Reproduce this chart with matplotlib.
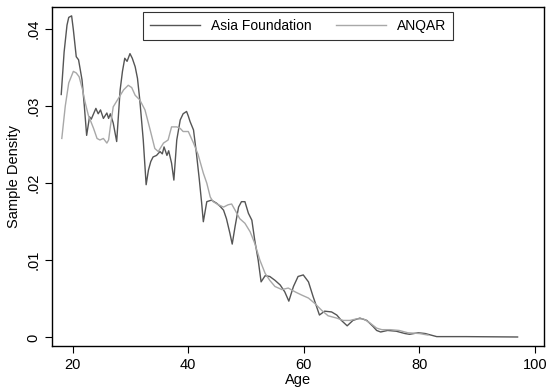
import matplotlib
matplotlib.use("Agg")
import matplotlib.pyplot as plt
from matplotlib.ticker import FixedLocator, FixedFormatter

plt.rcParams['font.family'] = ['Liberation Sans', 'DejaVu Sans']

# Sample density by age: Asia Foundation survey
asia_age = [18.0, 18.5, 19.0, 19.3, 19.8, 20.1, 20.6, 21.0, 21.6, 22.0, 22.4, 22.9,
            23.2, 23.6, 24.0, 24.4, 24.8, 25.3, 25.9, 26.2, 26.5, 27.0, 27.6, 28.2,
            28.6, 29.0, 29.4, 29.9, 30.3, 30.8, 31.2, 31.6, 32.2, 32.7, 33.1, 33.5,
            33.9, 34.5, 35.1, 35.5, 35.8, 36.3, 36.6, 37.1, 37.5, 38.0, 38.6, 39.1,
            39.7, 40.0, 40.3, 40.9, 41.4, 41.9, 42.3, 42.6, 43.2, 44.0, 44.9, 45.5,
            46.1, 46.6, 47.2, 47.6, 48.1, 48.7, 49.2, 49.8, 50.4, 51.0, 51.5, 52.1,
            52.6, 53.3, 54.1, 55.0, 55.9, 56.7, 57.4, 58.2, 59.0, 59.9, 60.8, 61.6,
            62.2, 62.7, 63.6, 64.8, 65.7, 66.5, 67.5, 68.5, 69.7, 70.9, 72.0, 72.6,
            73.3, 74.5, 76.0, 77.5, 78.3, 79.8, 81.0, 82.0, 83.0, 88.0, 97.0]
asia_density = [0.0315, 0.0370, 0.0405, 0.0415, 0.0417, 0.0399, 0.0364, 0.0360, 0.0334,
                0.0300, 0.0262, 0.0286, 0.0283, 0.0290, 0.0297, 0.0290, 0.0295, 0.0284,
                0.0291, 0.0284, 0.0290, 0.0278, 0.0254, 0.0321, 0.0345, 0.0362, 0.0358,
                0.0368, 0.0362, 0.0351, 0.0336, 0.0308, 0.0256, 0.0198, 0.0217, 0.0228,
                0.0234, 0.0236, 0.0241, 0.0238, 0.0247, 0.0236, 0.0242, 0.0226, 0.0204,
                0.0256, 0.0282, 0.0290, 0.0293, 0.0287, 0.0280, 0.0269, 0.0239, 0.0205,
                0.0175, 0.0150, 0.0176, 0.0178, 0.0174, 0.0170, 0.0165, 0.0154, 0.0135,
                0.0121, 0.0144, 0.0169, 0.0176, 0.0176, 0.0161, 0.0152, 0.0126, 0.0100,
                0.0072, 0.0080, 0.0079, 0.0074, 0.0068, 0.0059, 0.0047, 0.0066, 0.0079,
                0.0081, 0.0072, 0.0053, 0.0040, 0.0029, 0.0034, 0.0033, 0.0029, 0.0022,
                0.0015, 0.0022, 0.0025, 0.0022, 0.0014, 0.0009, 0.0007, 0.0009, 0.0008,
                0.0005, 0.0004, 0.0006, 0.0005, 0.0003, 0.0001, 0.0001, 0.00005]

# Sample density by age: ANQAR survey
anqar_age = [18.1, 18.7, 19.3, 20.1, 20.6, 21.1, 21.7, 22.1, 22.7, 23.6, 24.2, 24.7,
             25.3, 25.9, 26.2, 26.5, 27.0, 27.9, 28.8, 29.6, 30.2, 30.8, 31.6, 32.5,
             33.4, 34.2, 34.8, 35.7, 36.5, 37.1, 38.0, 38.6, 39.1, 40.0, 40.9, 41.7,
             42.6, 43.2, 43.8, 44.3, 45.2, 46.1, 46.9, 47.5, 48.1, 48.9, 49.8, 50.7,
             51.5, 52.4, 53.3, 54.1, 55.0, 56.2, 57.3, 58.5, 59.6, 60.8, 61.9, 63.1,
             64.2, 65.7, 66.8, 68.0, 69.1, 70.3, 71.4, 72.6, 73.5, 75.0, 76.5, 78.0,
             80.0, 81.5]
anqar_density = [0.0258, 0.0300, 0.0330, 0.0345, 0.0343, 0.0338, 0.0321, 0.0306, 0.0288,
                 0.0271, 0.0258, 0.0256, 0.0258, 0.0252, 0.0256, 0.0273, 0.0299, 0.0310,
                 0.0321, 0.0327, 0.0324, 0.0314, 0.0308, 0.0295, 0.0269, 0.0245, 0.0241,
                 0.0252, 0.0256, 0.0273, 0.0273, 0.0271, 0.0267, 0.0267, 0.0252, 0.0237,
                 0.0213, 0.0200, 0.0182, 0.0176, 0.0172, 0.0169, 0.0172, 0.0173, 0.0165,
                 0.0154, 0.0148, 0.0137, 0.0122, 0.0100, 0.0083, 0.0074, 0.0066, 0.0062,
                 0.0064, 0.0059, 0.0055, 0.0051, 0.0044, 0.0035, 0.0028, 0.0025, 0.0022,
                 0.0022, 0.0024, 0.0024, 0.0019, 0.0012, 0.0010, 0.0010, 0.0009, 0.0006,
                 0.0005, 0.0003]

x_ticks = [20, 40, 60, 80, 100]
y_ticks = [0, 0.01, 0.02, 0.03, 0.04]
y_tick_labels = ['0', '.01', '.02', '.03', '.04']

fig = plt.figure(figsize=(5.53, 3.88), dpi=100)
ax = fig.add_axes([0.094, 0.108, 0.890, 0.873])

ax.plot(asia_age, asia_density, color='#555555', lw=1.0, label='Asia Foundation')
ax.plot(anqar_age, anqar_density, color='#a8a8a8', lw=1.0, label='ANQAR')

ax.set_xlim(16.4, 101.6)
ax.set_ylim(-0.00113, 0.0428)
ax.xaxis.set_major_locator(FixedLocator(x_ticks))
ax.yaxis.set_major_locator(FixedLocator(y_ticks))
ax.yaxis.set_major_formatter(FixedFormatter(y_tick_labels))
ax.tick_params(direction='out', length=5, width=0.8, labelsize=10.5, colors='black')
for lbl in ax.get_yticklabels():
    lbl.set_rotation(90)
    lbl.set_va('center')
for s in ax.spines.values():
    s.set_linewidth(1.0)

ax.set_xlabel('Age', fontsize=10.5, labelpad=1)
ax.set_ylabel('Sample Density', fontsize=10.5, labelpad=4)

leg = ax.legend(loc='upper center', bbox_to_anchor=(0.5, 0.986), ncol=2,
                fontsize=10, frameon=True, fancybox=False, edgecolor='black',
                handlelength=3.6, handletextpad=0.75, columnspacing=1.8,
                borderpad=0.5, borderaxespad=0)
leg.get_frame().set_linewidth(0.8)

fig.savefig('out.png', dpi=100)
